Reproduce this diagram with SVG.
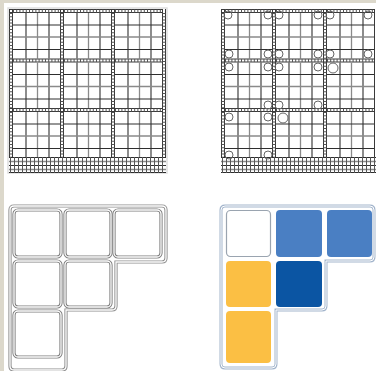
<svg xmlns="http://www.w3.org/2000/svg" xmlns:xlink="http://www.w3.org/1999/xlink" width="376" height="371" viewBox="0 0 376 371">
<style>
.rail{stroke:#3a3a3a;stroke-width:1;fill:none}
.rung{stroke:#555;stroke-width:3;stroke-dasharray:1 2.2;fill:none}
.dk{stroke:#2e2e2e;stroke-width:1.1;fill:none}
.gy{stroke:#8a8a8a;stroke-width:1.3;fill:none}
.vb{stroke:#444;stroke-width:1;fill:none}
.circ{stroke:#666;stroke-width:1;fill:none}
.cellw{fill:none;stroke:#7e7e7e;stroke-width:3.2}
.cellin{fill:none;stroke:#fff;stroke-width:1.3}
.outer{fill:none;stroke:#8e8e8e;stroke-width:3.2}
.outerB{fill:#fff;stroke:#a3b5cc;stroke-width:3}
.outerBin{fill:none;stroke:#fff;stroke-width:1}
</style>
<defs>
<g id="blk">
<line x1="0.5" y1="0" x2="0.5" y2="49.5" class="rail"/>
<line x1="3.5" y1="0" x2="3.5" y2="49.5" class="rail"/>
<line x1="2" y1="4" x2="2" y2="49.5" class="rung"/>
<line x1="0" y1="0.5" x2="51" y2="0.5" class="rail"/>
<line x1="0" y1="3.5" x2="51" y2="3.5" class="rail"/>
<line x1="4" y1="2" x2="51" y2="2" class="rung"/>
<line x1="17" y1="4" x2="17" y2="49.5" class="dk"/>
<line x1="28.5" y1="4" x2="28.5" y2="49.5" class="gy"/>
<line x1="40" y1="4" x2="40" y2="49.5" class="dk"/>
<line x1="4" y1="16" x2="51" y2="16" class="dk"/>
<line x1="4" y1="28" x2="51" y2="28" class="gy"/>
<line x1="4" y1="40.5" x2="51" y2="40.5" class="dk"/>
</g>
<g id="band">
<line x1="0" y1="0.5" x2="157" y2="0.5" class="dk"/>
<line x1="0" y1="4.5" x2="157" y2="4.5" class="gy"/>
<line x1="0" y1="8.5" x2="157" y2="8.5" class="dk"/>
<line x1="0" y1="12.5" x2="157" y2="12.5" class="gy"/>
<line x1="0" y1="15.5" x2="157" y2="15.5" class="dk"/>
<line x1="1" y1="8" x2="157" y2="8" style="stroke:#555;stroke-width:16;stroke-dasharray:1 3;fill:none"/>
</g>
</defs>
<rect x="0" y="0" width="376" height="371" fill="#fff"/>
<rect x="0" y="0" width="376" height="3" fill="#dcd8cb"/>
<rect x="0" y="0" width="4" height="371" fill="#dcd8cb"/>

<g id="grid-left">
<rect x="8" y="8" width="159" height="165" fill="none" stroke="#dedede" stroke-width="1.5"/>
<use href="#blk" x="9" y="9"/><use href="#blk" x="60" y="9"/><use href="#blk" x="111" y="9"/>
<use href="#blk" x="9" y="58.5"/><use href="#blk" x="60" y="58.5"/><use href="#blk" x="111" y="58.5"/>
<use href="#blk" x="9" y="108"/><use href="#blk" x="60" y="108"/><use href="#blk" x="111" y="108"/>
<line x1="162.5" y1="9" x2="162.5" y2="157" class="rail"/>
<line x1="165.5" y1="9" x2="165.5" y2="157" class="rail"/>
<line x1="164" y1="13" x2="164" y2="157" class="rung"/>
<use href="#band" x="9" y="157"/>
</g>

<g id="grid-right">
<use href="#blk" x="221" y="9"/><use href="#blk" x="272" y="9"/><use href="#blk" x="323" y="9"/>
<use href="#blk" x="221" y="58.5"/><use href="#blk" x="272" y="58.5"/><use href="#blk" x="323" y="58.5"/>
<use href="#blk" x="221" y="108"/><use href="#blk" x="272" y="108"/><use href="#blk" x="323" y="108"/>
<line x1="374.5" y1="9" x2="374.5" y2="157" class="rail"/>
<use href="#band" x="221" y="157"/>
<circle cx="228" cy="15" r="4" class="circ"/><circle cx="268" cy="15" r="4" class="circ"/>
<circle cx="279" cy="15" r="4" class="circ"/><circle cx="318" cy="15" r="4" class="circ"/>
<circle cx="330" cy="15" r="4" class="circ"/><circle cx="368" cy="15" r="4" class="circ"/>
<circle cx="229" cy="54" r="4" class="circ"/><circle cx="268" cy="54" r="4" class="circ"/>
<circle cx="279" cy="54" r="4" class="circ"/><circle cx="318" cy="54" r="4" class="circ"/>
<circle cx="330" cy="54" r="4" class="circ"/><circle cx="368" cy="54" r="4" class="circ"/>
<circle cx="229" cy="67" r="4" class="circ"/><circle cx="268" cy="67" r="4" class="circ"/>
<circle cx="279" cy="67" r="4" class="circ"/><circle cx="318" cy="67" r="4" class="circ"/>
<circle cx="333" cy="68" r="5" class="circ"/>
<circle cx="268" cy="105" r="4" class="circ"/><circle cx="279" cy="105" r="4" class="circ"/>
<circle cx="318" cy="105" r="4" class="circ"/>
<circle cx="229" cy="117" r="4" class="circ"/><circle cx="268" cy="117" r="4" class="circ"/>
<circle cx="283" cy="118" r="5" class="circ"/>
<circle cx="229" cy="155" r="4" class="circ"/><circle cx="268" cy="155" r="4" class="circ"/>
</g>

<g id="shape-empty">
<path class="outer" d="M14,206 H162 Q166,206 166,210 V258 Q166,262 162,262 H116 V306 Q116,310 112,310 H66 V366 Q66,370 62,370 H14 Q10,370 10,366 V210 Q10,206 14,206 Z"/>
<path class="cellin" d="M14,206 H162 Q166,206 166,210 V258 Q166,262 162,262 H116 V306 Q116,310 112,310 H66 V366 Q66,370 62,370 H14 Q10,370 10,366 V210 Q10,206 14,206 Z"/>
<rect class="cellw" x="14" y="210" width="47" height="47" rx="4"/><rect class="cellin" x="14" y="210" width="47" height="47" rx="4"/>
<rect class="cellw" x="65" y="210" width="46" height="47" rx="4"/><rect class="cellin" x="65" y="210" width="46" height="47" rx="4"/>
<rect class="cellw" x="114" y="210" width="47" height="47" rx="4"/><rect class="cellin" x="114" y="210" width="47" height="47" rx="4"/>
<rect class="cellw" x="14" y="261" width="47" height="46" rx="4"/><rect class="cellin" x="14" y="261" width="47" height="46" rx="4"/>
<rect class="cellw" x="65" y="261" width="46" height="46" rx="4"/><rect class="cellin" x="65" y="261" width="46" height="46" rx="4"/>
<rect class="cellw" x="14" y="311" width="47" height="46" rx="4"/><rect class="cellin" x="14" y="311" width="47" height="46" rx="4"/>
</g>

<g id="shape-filled">
<path class="outerB" d="M225,206 H370 Q374,206 374,210 V257 Q374,261 370,261 H326 V306 Q326,310 322,310 H276 V364 Q276,368 272,368 H225 Q221,368 221,364 V210 Q221,206 225,206 Z"/>
<path class="outerBin" d="M225,206 H370 Q374,206 374,210 V257 Q374,261 370,261 H326 V306 Q326,310 322,310 H276 V364 Q276,368 272,368 H225 Q221,368 221,364 V210 Q221,206 225,206 Z"/>
<rect x="226.5" y="210.5" width="44" height="46" rx="4" fill="#fff" stroke="#9aa4b0" stroke-width="1.2"/>
<rect x="276" y="210" width="46" height="47" rx="4" fill="#4a7fc3"/>
<rect x="327" y="210" width="45" height="47" rx="4" fill="#4a7fc3"/>
<rect x="226" y="261" width="45" height="46" rx="4" fill="#fbbf44"/>
<rect x="276" y="261" width="46" height="46" rx="4" fill="#0b55a3"/>
<rect x="226" y="311" width="45" height="52" rx="4" fill="#fbbf44"/>
</g>
</svg>
